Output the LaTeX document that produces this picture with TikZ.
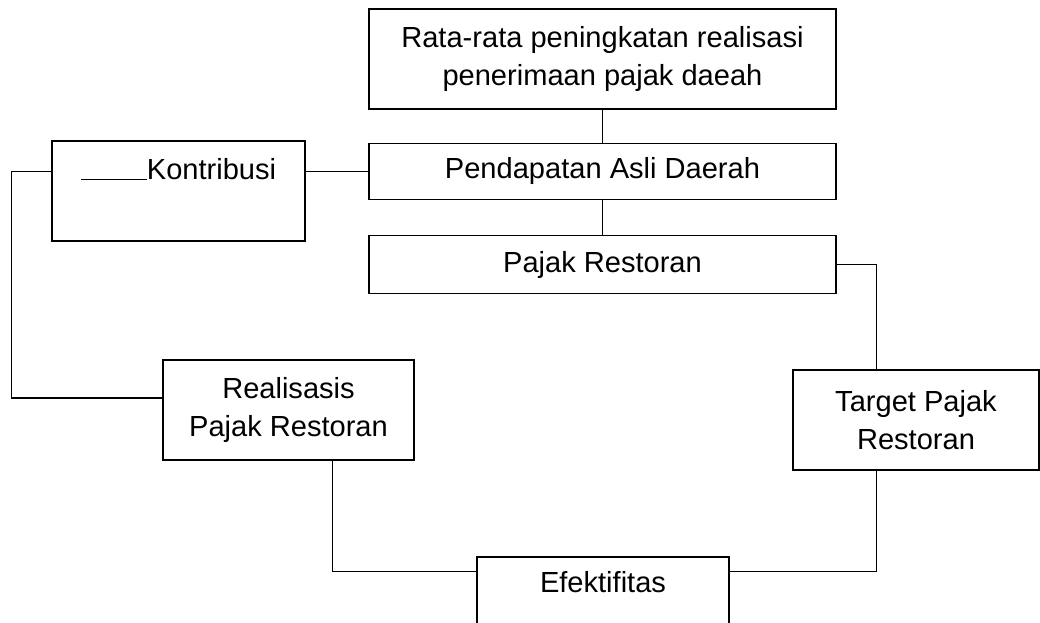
\documentclass[tikz,border=0pt]{standalone}
\usepackage{fontspec}
\setmainfont{Liberation Sans}
\usetikzlibrary{positioning}

\begin{document}
\begin{tikzpicture}[x=0.75pt, y=-0.75pt]
    \tikzstyle{main}=[rectangle, draw=black, line width=1pt, align=center, inner sep=0pt, font=\fontsize{21.8}{29}\selectfont]
    \tikzstyle{wide}=[main, minimum width=350.25pt]
    \tikzstyle{box}=[main, minimum height=75pt]
    \tikzstyle{connect}=[line width=1pt]

      \clip (0,0) rectangle (1040,623);

      \node[wide, minimum height=75pt] (rata) at (602.5,59) {Rata-rata peningkatan realisasi\\penerimaan pajak daeah};
      \node[wide, minimum height=42pt] (pad) [below=24.75pt of rata] {Pendapatan Asli Daerah};
      \node[wide, minimum height=43.5pt] (pajak) [below=26.25pt of pad] {Pajak Restoran};
      \node[box, minimum width=189.75pt, text height=16pt, text depth=32.5pt] (kontri) at (178.5,191) {\rule{49.5pt}{0.9pt}Kontribusi};
      \node[box, minimum width=188.25pt] (rea) at (288.5,410) {Realisasis\\Pajak Restoran};
      \node[box, minimum width=184.5pt] (tgt) at (916,420) {Target Pajak\\Restoran};
      \node[box, minimum width=189pt, text height=16pt, text depth=37pt] (efek) at (603,607) {Efektifitas};

      \path
        (rata) edge [connect] (pad)
        (pad) edge [connect] (pajak)
        (kontri.east |- pad.west) edge [connect] (pad.west);
      \draw[connect] (kontri.west |- pad.west) -- ++(-30pt,0) |- ([yshift=9pt]rea.west);
      \draw[connect] (pajak.east) -| ([xshift=63pt]tgt.north west);
      \draw[connect] ([xshift=127.5pt]rea.south west) |- ([yshift=-11.25pt]efek.north west);
      \draw[connect] ([xshift=63pt]tgt.south west) |- ([yshift=-11.25pt]efek.north east);
    \end{tikzpicture}
\end{document}
